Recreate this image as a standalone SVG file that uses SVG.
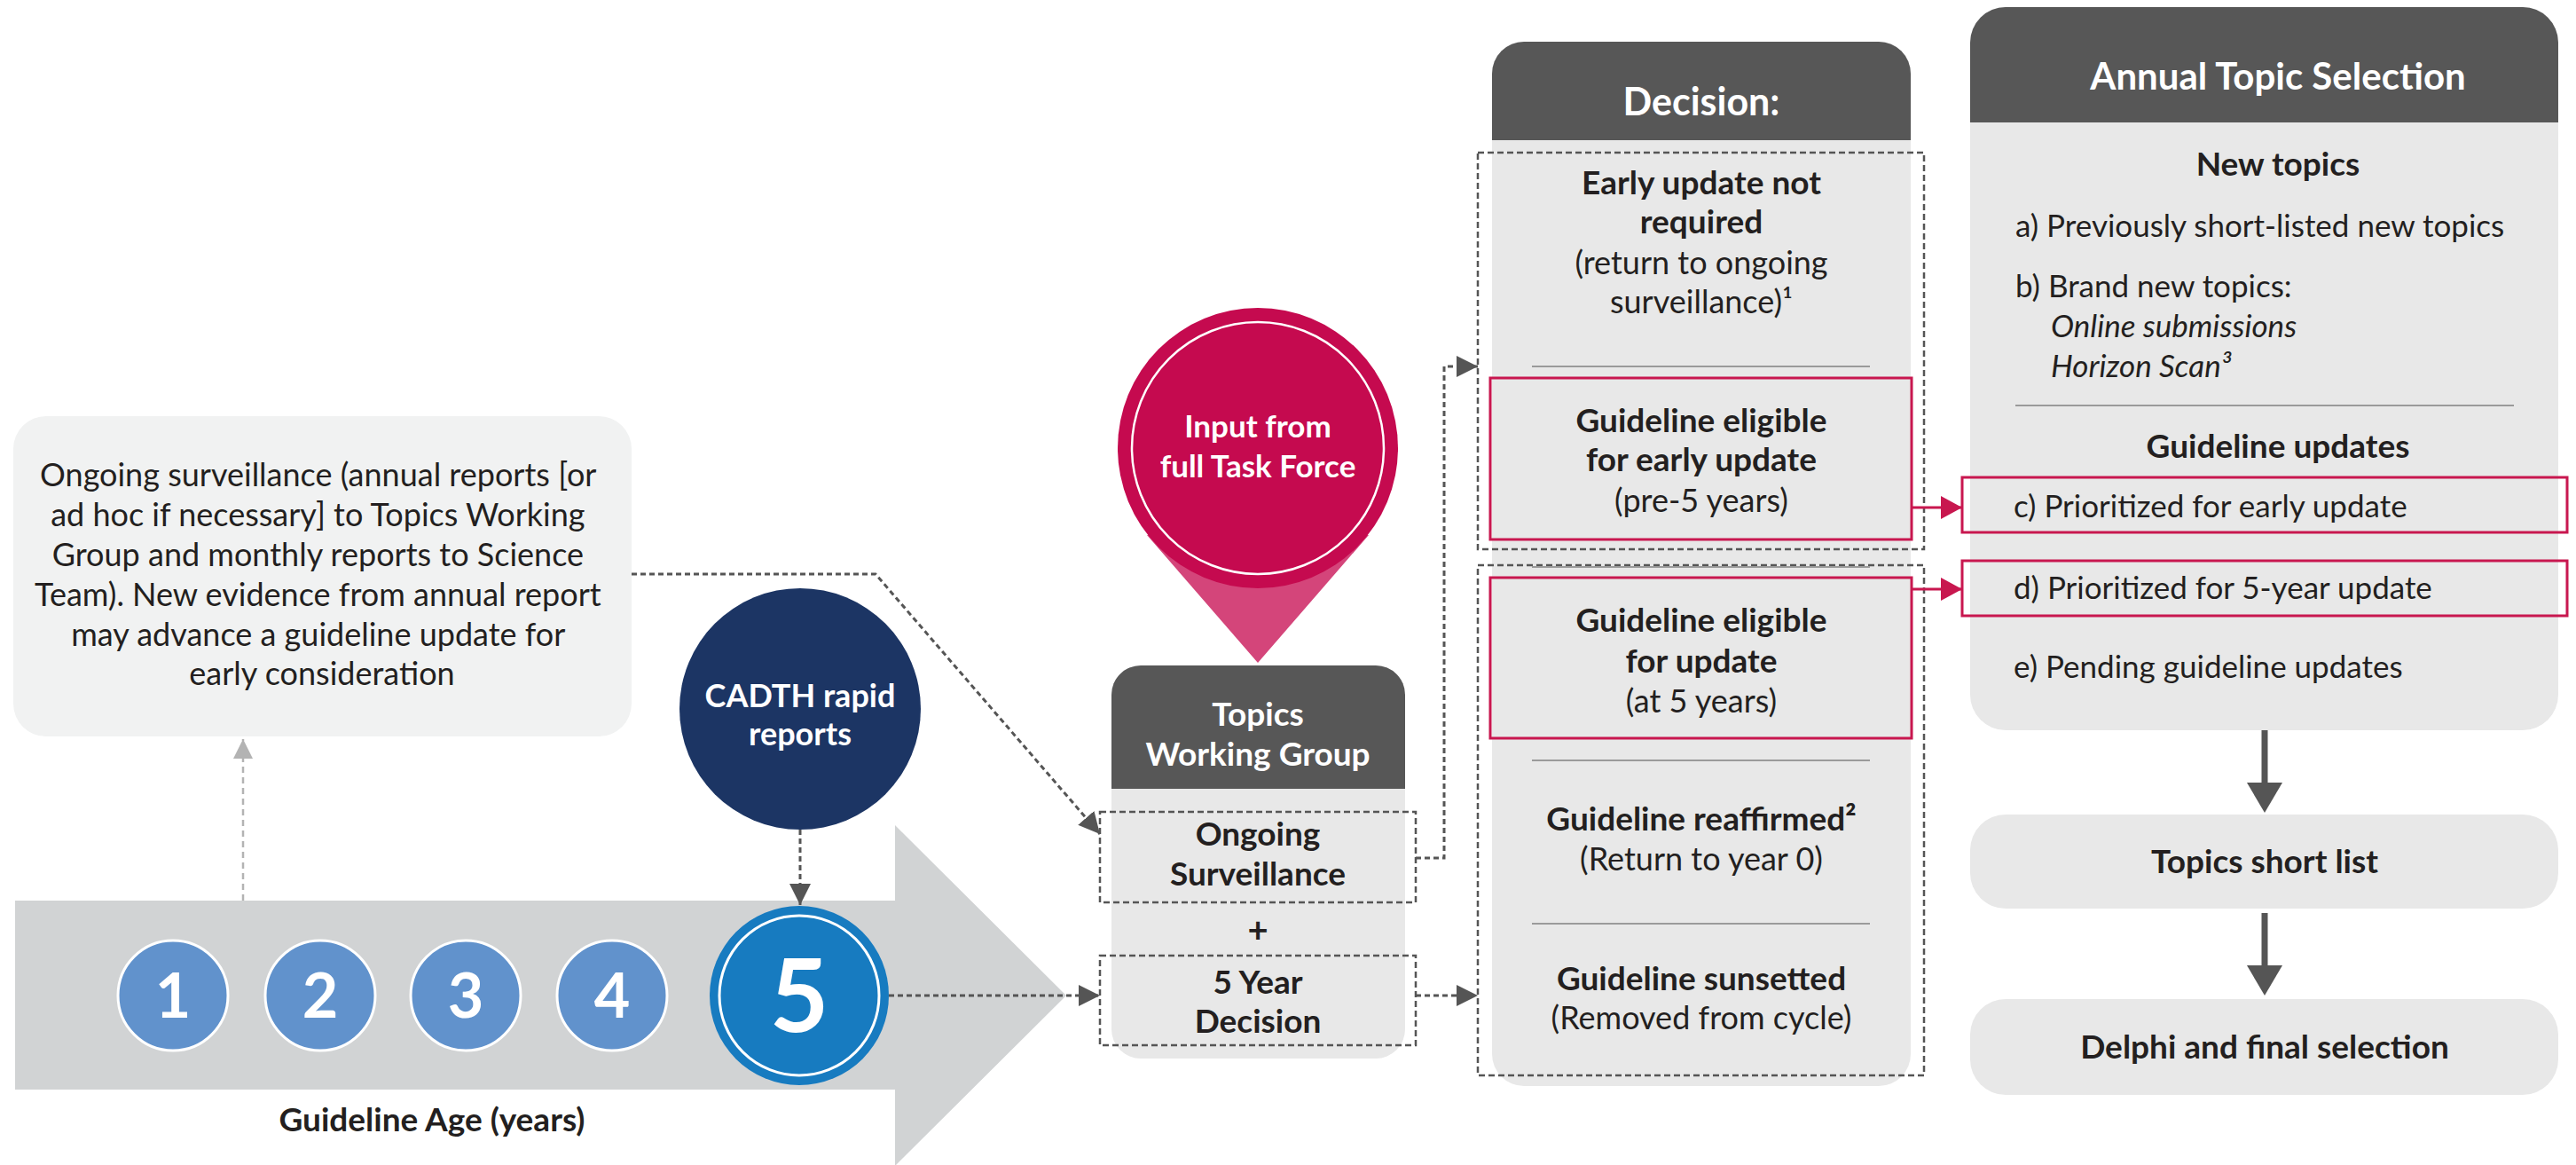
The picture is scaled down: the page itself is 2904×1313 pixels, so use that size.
<svg xmlns="http://www.w3.org/2000/svg" width="2904" height="1313" viewBox="0 0 2904 1313">
<style>
.t{font-family:Lato,"Open Sans","Liberation Sans",sans-serif;fill:#231F20}
.b{font-weight:700}
.i{font-style:italic}
.w{fill:#FFFFFF}
.m{text-anchor:middle}
.hd{fill:#575757}
.bd{fill:#E8E8E8}
.frame{fill:none;stroke:#555555;stroke-width:2.5;stroke-dasharray:7 4}
.red{fill:none;stroke:#C8174F;stroke-width:3}
.sep{stroke:#9A9A9A;stroke-width:2}
.con{fill:none;stroke:#555555;stroke-width:3;stroke-dasharray:6 4}
.yr{fill:#6192CC;stroke:#FFFFFF;stroke-width:3}
</style>
<defs>
<marker id="ad" markerUnits="userSpaceOnUse" markerWidth="24" markerHeight="24" viewBox="0 0 24 24" refX="24" refY="12" orient="auto"><path d="M0,0 L24,12 L0,24 Z" fill="#555555"/></marker>
<marker id="al" markerUnits="userSpaceOnUse" markerWidth="22" markerHeight="22" viewBox="0 0 22 22" refX="22" refY="11" orient="auto"><path d="M0,0 L22,11 L0,22 Z" fill="#B3B3B3"/></marker>
<marker id="ar" markerUnits="userSpaceOnUse" markerWidth="24" markerHeight="26" viewBox="0 0 24 26" refX="24" refY="13" orient="auto"><path d="M0,0 L24,13 L0,26 Z" fill="#C8174F"/></marker>
</defs>

<!-- Guideline age band -->
<g id="age-band">
<path d="M17 1015 H1009 V930 L1202 1122 L1009 1314 V1228 H17 Z" fill="#D1D3D4"/>
<circle class="yr" cx="195" cy="1122" r="62"/>
<circle class="yr" cx="361" cy="1122" r="62"/>
<circle class="yr" cx="525" cy="1122" r="62"/>
<circle class="yr" cx="690" cy="1122" r="62"/>
<text class="t b w m" x="195" y="1147" font-size="70">1</text>
<text class="t b w m" x="361" y="1147" font-size="70">2</text>
<text class="t b w m" x="525" y="1147" font-size="70">3</text>
<text class="t b w m" x="690" y="1147" font-size="70">4</text>
<text class="t b m" x="487" y="1275" font-size="37">Guideline Age (years)</text>
</g>
<g id="year5">
<circle cx="901" cy="1122" r="101" fill="#177BC0"/>
<circle cx="901" cy="1122" r="90" fill="none" stroke="#FFFFFF" stroke-width="3"/>
<text class="t b w m" x="901" y="1163" font-size="115">5</text>
</g>

<!-- Surveillance note -->
<g id="surveillance-note">
<rect x="15" y="469" width="697" height="361" rx="37" fill="#F1F2F2"/>
<text class="t m" font-size="36">
<tspan x="363" y="548">Ongoing surveillance (annual reports [or</tspan>
<tspan x="363" y="593">ad hoc if necessary] to Topics Working</tspan>
<tspan x="363" y="638">Group and monthly reports to Science</tspan>
<tspan x="363" y="683">Team). New evidence from annual report</tspan>
<tspan x="363" y="728">may advance a guideline update for</tspan>
<tspan x="363" y="772">early consideration</tspan>
</text>
</g>

<!-- CADTH -->
<g id="cadth">
<circle cx="902" cy="799" r="136" fill="#1C3564"/>
<text class="t b w m" font-size="36"><tspan x="902" y="797">CADTH rapid</tspan><tspan x="902" y="840">reports</tspan></text>
</g>

<!-- Input pin -->
<g id="task-force">
<path d="M1293 603 L1418 747 L1543 603 Z" fill="#D4457A"/>
<circle cx="1418" cy="505" r="158" fill="#C50A4F"/>
<circle cx="1418" cy="505" r="142" fill="none" stroke="#FFFFFF" stroke-width="2.5"/>
<text class="t b w m" font-size="35"><tspan x="1418" y="493">Input from</tspan><tspan x="1418" y="538">full Task Force</tspan></text>
</g>

<!-- Topics Working Group -->
<g id="topics-working-group">
<rect class="bd" x="1253" y="750" width="331" height="443" rx="33"/>
<path class="hd" d="M1253 889 V783 A33 33 0 0 1 1286 750 H1551 A33 33 0 0 1 1584 783 V889 Z"/>
<text class="t b w m" font-size="37"><tspan x="1418" y="818">Topics</tspan><tspan x="1418" y="863">Working Group</tspan></text>
<rect class="frame" x="1240" y="915" width="356" height="102"/>
<text class="t b m" font-size="37"><tspan x="1418" y="953">Ongoing</tspan><tspan x="1418" y="998">Surveillance</tspan></text>
<text class="t b m" x="1418" y="1062" font-size="40">+</text>
<rect class="frame" x="1240" y="1077" width="356" height="101"/>
<text class="t b m" font-size="37"><tspan x="1418" y="1120">5 Year</tspan><tspan x="1418" y="1164">Decision</tspan></text>
</g>

<!-- Decision -->
<g id="decision">
<rect class="bd" x="1682" y="47" width="472" height="1177" rx="36"/>
<path class="hd" d="M1682 158 V83 A36 36 0 0 1 1718 47 H2118 A36 36 0 0 1 2154 83 V158 Z"/>
<text class="t b w m" x="1918" y="130" font-size="43">Decision:</text>
<rect class="frame" x="1666" y="172" width="503" height="447"/>
<rect class="frame" x="1666" y="637" width="503" height="575"/>
<text class="t b m" font-size="37"><tspan x="1918" y="219">Early update not</tspan><tspan x="1918" y="263">required</tspan></text>
<text class="t m" font-size="36"><tspan x="1918" y="309">(return to ongoing</tspan><tspan x="1918" y="353">surveillance)¹</tspan></text>
<line class="sep" x1="1727" y1="413" x2="2108" y2="413"/>
<rect class="red" x="1680" y="426" width="475" height="182"/>
<text class="t b m" font-size="37"><tspan x="1918" y="487">Guideline eligible</tspan><tspan x="1918" y="531">for early update</tspan></text>
<text class="t m" x="1918" y="577" font-size="36">(pre-5 years)</text>
<line class="sep" x1="1727" y1="639" x2="2108" y2="639"/>
<rect class="red" x="1680" y="651" width="475" height="181"/>
<text class="t b m" font-size="37"><tspan x="1918" y="712">Guideline eligible</tspan><tspan x="1918" y="758">for update</tspan></text>
<text class="t m" x="1918" y="803" font-size="36">(at 5 years)</text>
<line class="sep" x1="1727" y1="857" x2="2108" y2="857"/>
<text class="t b m" x="1918" y="936" font-size="37">Guideline reaffirmed²</text>
<text class="t m" x="1918" y="981" font-size="36">(Return to year 0)</text>
<line class="sep" x1="1727" y1="1041" x2="2108" y2="1041"/>
<text class="t b m" x="1918" y="1116" font-size="37">Guideline sunsetted</text>
<text class="t m" x="1918" y="1160" font-size="36">(Removed from cycle)</text>
</g>

<!-- Annual Topic Selection -->
<g id="annual-topic-selection">
<rect class="bd" x="2221" y="8" width="663" height="815" rx="40"/>
<path class="hd" d="M2221 138 V48 A40 40 0 0 1 2261 8 H2844 A40 40 0 0 1 2884 48 V138 Z"/>
<text class="t b w m" x="2568" y="101" font-size="42">Annual Topic Selection</text>
<text class="t b m" x="2568" y="198" font-size="37">New topics</text>
<text class="t" x="2272" y="267" font-size="35">a) Previously short-listed new topics</text>
<text class="t" x="2272" y="335" font-size="35">b) Brand new topics:</text>
<text class="t i" x="2312" y="380" font-size="35">Online submissions</text>
<text class="t i" x="2312" y="425" font-size="35">Horizon Scan³</text>
<line class="sep" x1="2272" y1="457" x2="2834" y2="457"/>
<text class="t b m" x="2568" y="516" font-size="37">Guideline updates</text>
<rect class="red" x="2212" y="538" width="682" height="62"/>
<text class="t" x="2270" y="583" font-size="35">c) Prioritized for early update</text>
<rect class="red" x="2212" y="632" width="682" height="62"/>
<text class="t" x="2270" y="675" font-size="35">d) Prioritized for 5-year update</text>
<text class="t" x="2270" y="764" font-size="35">e) Pending guideline updates</text>
</g>

<g id="topics-short-list">
<rect class="bd" x="2221" y="918" width="663" height="106" rx="40"/>
<text class="t b m" x="2553" y="984" font-size="37">Topics short list</text>
</g>

<g id="delphi">
<rect class="bd" x="2221" y="1126" width="663" height="108" rx="40"/>
<text class="t b m" x="2553" y="1193" font-size="37">Delphi and final selection</text>
</g>

<!-- Connectors -->
<g id="connectors">
<path d="M274 1015 V833" fill="none" stroke="#B3B3B3" stroke-width="2.5" stroke-dasharray="7 5" marker-end="url(#al)"/>
<path class="con" d="M902 935 V1020" marker-end="url(#ad)"/>
<path class="con" d="M712 647 H987 L1240 940" marker-end="url(#ad)"/>
<path class="con" d="M1002 1122 H1240" marker-end="url(#ad)"/>
<path class="con" d="M1596 967 H1628 V413 H1666" marker-end="url(#ad)"/>
<path class="con" d="M1596 1122 H1666" marker-end="url(#ad)"/>
<path class="red" d="M2155 572 H2212" marker-end="url(#ar)"/>
<path class="red" d="M2155 664 H2212" marker-end="url(#ar)"/>
<path d="M2553 823 V884" stroke="#555555" stroke-width="7" fill="none"/>
<path d="M2533 882 H2573 L2553 916 Z" fill="#555555"/>
<path d="M2553 1029 V1090" stroke="#555555" stroke-width="7" fill="none"/>
<path d="M2533 1088 H2573 L2553 1122 Z" fill="#555555"/>
</g>
</svg>
